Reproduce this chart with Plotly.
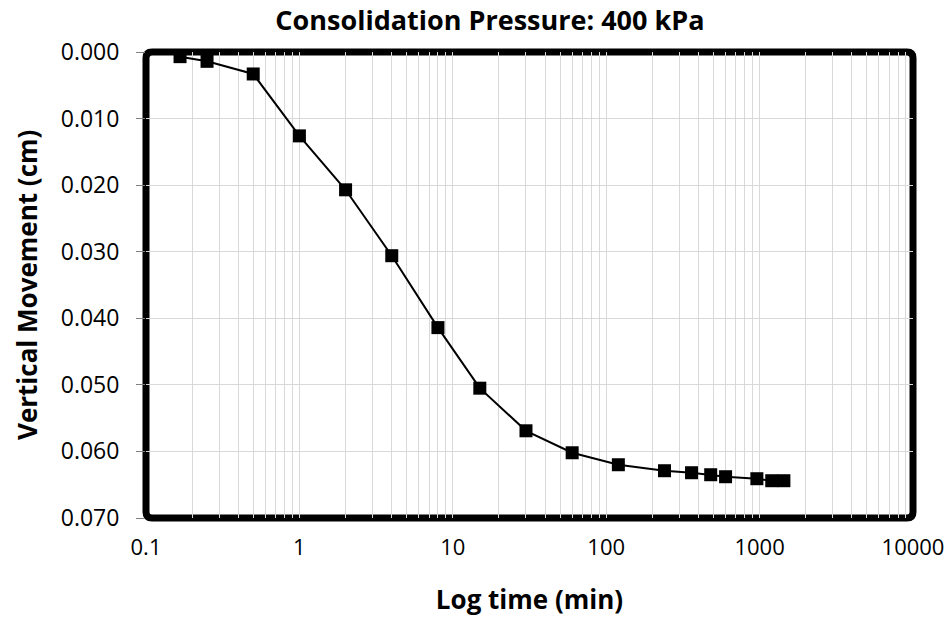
import plotly.graph_objects as go

time_min = [0.1667, 0.25, 0.5, 1, 2, 4, 8, 15, 30, 60, 120, 240, 360, 480, 600, 960, 1200, 1440]
movement_cm = [0.0007, 0.0014, 0.0033, 0.0126, 0.0207, 0.0306, 0.0414, 0.0505, 0.0569,
               0.0602, 0.0620, 0.0629, 0.0632, 0.0635, 0.0638, 0.0641, 0.0644, 0.0644]

x_tickvals = []
x_ticktext = []
for d in [0.1, 1, 10, 100, 1000]:
    for m in range(1, 10):
        v = d * m
        x_tickvals.append(v)
        x_ticktext.append(("%g" % v) if m == 1 else "")
x_tickvals.append(10000)
x_ticktext.append("10000")

y_tickvals = [0.0, 0.01, 0.02, 0.03, 0.04, 0.05, 0.06, 0.07]

FONT = "Open Sans, sans-serif"
PLOT_W, PLOT_H = 767, 466

fig = go.Figure()
fig.add_trace(go.Scatter(
    x=time_min, y=movement_cm, mode="lines+markers",
    line=dict(color="black", width=2),
    marker=dict(symbol="square", size=13, color="black"),
    showlegend=False,
))

fig.update_layout(
    width=944, height=623,
    margin=dict(l=146, r=31, t=52, b=105),
    paper_bgcolor="white", plot_bgcolor="white",
    font=dict(family=FONT, color="black", size=23),
    title=dict(text="<b>Consolidation Pressure: 400 kPa</b>", x=0.519, xanchor="center",
               y=0.967, yanchor="middle", font=dict(size=27, family=FONT)),
)

# rounded frame around the plot area
rx, ry = 6 / PLOT_W, 6 / PLOT_H
path = (f"M {rx},0 L {1-rx},0 Q 1,0 1,{ry} L 1,{1-ry} Q 1,1 {1-rx},1 "
        f"L {rx},1 Q 0,1 0,{1-ry} L 0,{ry} Q 0,0 {rx},0 Z")
fig.add_shape(type="path", path=path, xref="paper", yref="paper",
              line=dict(color="black", width=7), fillcolor="rgba(0,0,0,0)",
              layer="between")

fig.add_annotation(
    text="<b>Vertical Movement (cm)</b>", textangle=-90,
    xref="paper", yref="paper", x=(27 - 146) / PLOT_W, y=0.5,
    xanchor="center", yanchor="middle", showarrow=False,
    font=dict(size=26, family=FONT, color="black"),
)
fig.update_xaxes(
    type="log", range=[-1, 4],
    tickvals=x_tickvals, ticktext=x_ticktext,
    showgrid=True, gridcolor="#d9d9d9", gridwidth=1,
    showline=False,
    ticks="", ticklabelstandoff=14, ticklabeloverflow="allow",
    tickfont=dict(size=22),
    title=dict(text="<b>Log time (min)</b>", font=dict(size=26), standoff=30),
    zeroline=False, automargin=False,
)
fig.update_yaxes(
    range=[0.07, 0], tickvals=y_tickvals, tickformat=".3f",
    showgrid=True, gridcolor="#d9d9d9", gridwidth=1,
    showline=False,
    ticks="outside", ticklen=9, tickcolor="#808080", tickwidth=1,
    ticklabelstandoff=12,
    tickfont=dict(size=23),
    zeroline=False, automargin=False,
)

fig.write_html("out.html", config={"displayModeBar": False},
               post_script="document.body.style.margin='0';")
